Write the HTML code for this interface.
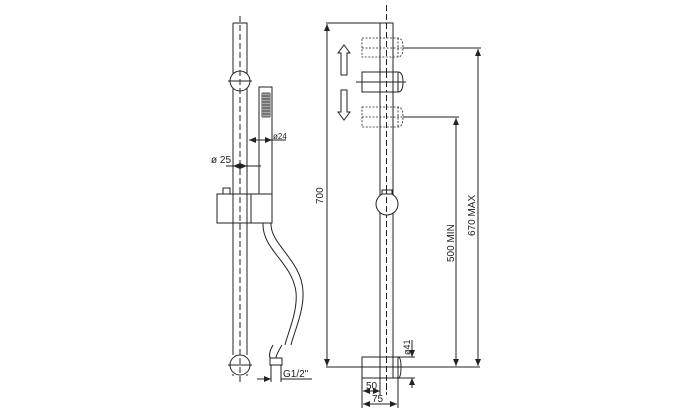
<!DOCTYPE html>
<html><head><meta charset="utf-8"><style>html,body{margin:0;padding:0;background:#fff}svg{display:block}</style></head><body>
<svg width="700" height="414" viewBox="0 0 700 414" xmlns="http://www.w3.org/2000/svg" font-family="Liberation Sans, sans-serif" fill="none" stroke="#222" stroke-width="1">
<defs><marker id="a" markerWidth="8" markerHeight="6" refX="7" refY="3" orient="auto-start-reverse"><path d="M0,0 L7,3 L0,6" fill="#222" stroke="none"/></marker></defs>
<!-- LEFT VIEW -->
<line x1="240" y1="16" x2="240" y2="385" stroke-dasharray="6,3"/>
<path d="M233,23 H247 V355 M233,23 V355"/>
<path d="M233,374 V376 M247,374 V376"/>
<circle cx="240" cy="81" r="10" fill="#fff"/>
<line x1="228" y1="81" x2="252" y2="81"/>
<circle cx="240" cy="365" r="10" fill="#fff"/>
<line x1="228" y1="365" x2="252" y2="365"/>
<line x1="240" y1="16" x2="240" y2="385" stroke-dasharray="6,3"/>
<rect x="259" y="87" width="13" height="116"/>
<g stroke-width="0.8"><path d="M262,93 H270 M262,96 H270 M262,99 H270 M262,102 H270 M262,105 H270 M262,108 H270 M262,111 H270 M262,114 H270 M262,117 H270 M262,93 V117 M264,93 V117 M266,93 V117 M268,93 V117 M270,93 V117"/></g>
<rect x="217" y="194" width="55" height="29" fill="#fff"/>
<line x1="251" y1="194" x2="251" y2="223"/>
<line x1="233" y1="194" x2="233" y2="223"/><line x1="247" y1="194" x2="247" y2="223"/>
<rect x="223" y="188" width="7" height="6"/>
<line x1="240" y1="188" x2="240" y2="230" stroke-dasharray="6,3"/>
<line x1="247" y1="138" x2="247" y2="194"/>
<line x1="249" y1="140" x2="272" y2="140" marker-start="url(#a)" marker-end="url(#a)"/>
<line x1="272" y1="140" x2="286" y2="140"/>
<text x="273" y="139" font-size="8" fill="#222" stroke="none">ø24</text>
<line x1="226" y1="166" x2="261" y2="166"/>
<line x1="233" y1="166" x2="247" y2="166" marker-start="url(#a)" marker-end="url(#a)"/>
<text x="211" y="163" font-size="10" fill="#222" stroke="none">ø 25</text>
<path d="M263,223 C262,250 292,262 296,292 C298,312 287,335 285,345"/>
<path d="M271,223 C270,245 302,260 303,292 C304,312 293,335 291,345"/>
<path d="M282,345 C279,350 276,355 276,358"/>
<path d="M273,345 C270,350 269,355 270,358"/>
<rect x="270" y="358" width="12" height="7"/>
<path d="M271,365 V382 M281,365 V382"/>
<line x1="257" y1="379" x2="271" y2="379" marker-end="url(#a)"/>
<line x1="281" y1="379" x2="312" y2="379"/>
<text x="283" y="377" font-size="10" fill="#222" stroke="none">G1/2"</text>
<!-- RIGHT VIEW -->
<line x1="386.5" y1="5" x2="386.5" y2="395" stroke-dasharray="6,3"/>
<path d="M380,23 H393 V357 M380,23 V357"/>
<g stroke-dasharray="2,1.5" stroke-width="0.8">
<path d="M362,38 H398 Q403,38 403,47.5 Q403,57 398,57 H362 Z M398,38 V57"/>
<path d="M362,107 H398 Q403,107 403,117 Q403,127 398,127 H362 Z M398,107 V127"/>
</g>
<path d="M362,72 H398 Q403,72 403,82 Q403,92 398,92 H362 Z M398,72 V92" fill="#fff"/>
<line x1="380" y1="72" x2="380" y2="92"/><line x1="393" y1="72" x2="393" y2="92"/>
<line x1="356" y1="82" x2="406" y2="82"/>
<line x1="386.5" y1="72" x2="386.5" y2="92" stroke-dasharray="6,3"/>
<line x1="362" y1="48" x2="403" y2="48" stroke-dasharray="2,1.5" stroke-width="0.8"/>
<line x1="362" y1="117" x2="403" y2="117" stroke-dasharray="2,1.5" stroke-width="0.8"/>
<path d="M344,45 L350,53 H347 V75 H341 V53 H338 Z"/>
<path d="M341,90 H347 V112 H350 L344,120 L338,112 H341 Z"/>
<circle cx="387" cy="204" r="11" fill="#fff"/>
<rect x="382" y="190" width="10" height="4" fill="#fff"/>
<line x1="386.5" y1="188" x2="386.5" y2="218" stroke-dasharray="6,3"/>
<path d="M362,357 H398 Q401,357 401,367 Q401,378 398,378 H362 Z M398,357 V378" fill="#fff"/>
<line x1="380" y1="357" x2="380" y2="378"/><line x1="393" y1="357" x2="393" y2="378"/>
<line x1="386.5" y1="357" x2="386.5" y2="395" stroke-dasharray="6,3"/>
<!-- dims -->
<line x1="326" y1="23" x2="380" y2="23"/>
<line x1="326" y1="367" x2="480" y2="367"/>
<line x1="327" y1="24" x2="327" y2="366" marker-start="url(#a)" marker-end="url(#a)"/>
<text transform="translate(323,204) rotate(-90)" font-size="10" fill="#222" stroke="none">700</text>
<line x1="403" y1="48" x2="481" y2="48"/>
<line x1="478" y1="49" x2="478" y2="366" marker-start="url(#a)" marker-end="url(#a)"/>
<text transform="translate(475,236) rotate(-90)" font-size="10" fill="#222" stroke="none">670 MAX</text>
<line x1="403" y1="117" x2="459" y2="117"/>
<line x1="456" y1="118" x2="456" y2="366" marker-start="url(#a)" marker-end="url(#a)"/>
<text transform="translate(454,262) rotate(-90)" font-size="10" fill="#222" stroke="none">500 MIN</text>
<line x1="398" y1="357" x2="415" y2="357"/><line x1="398" y1="378" x2="415" y2="378"/>
<line x1="412" y1="340" x2="412" y2="357" marker-end="url(#a)"/>
<line x1="412" y1="378" x2="412" y2="388" marker-start="url(#a)"/>
<text transform="translate(410,355) rotate(-90)" font-size="9" fill="#222" stroke="none">ø41</text>
<path d="M362,378 V408 M398,378 V408 M380,378 V395"/>
<line x1="363" y1="391" x2="380" y2="391" marker-start="url(#a)" marker-end="url(#a)"/>
<text x="366" y="389" font-size="10" fill="#222" stroke="none">50</text>
<line x1="363" y1="404" x2="397" y2="404" marker-start="url(#a)" marker-end="url(#a)"/>
<text x="372" y="402" font-size="10" fill="#222" stroke="none">75</text>
</svg>
</body></html>
